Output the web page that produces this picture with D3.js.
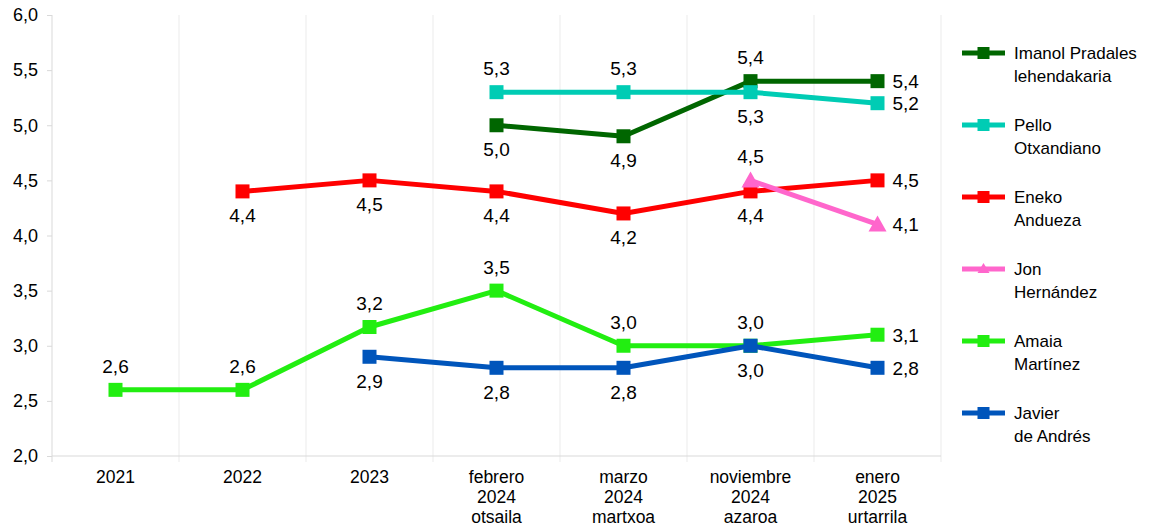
<!DOCTYPE html>
<html>
<head>
<meta charset="utf-8">
<script src="https://cdn.jsdelivr.net/npm/d3@7"></script>
<style>
  body { margin: 0; background: #fff; }
  svg { font-family: "Liberation Sans", Arial, sans-serif; }
</style>
</head>
<body>
<svg width="1166" height="529"></svg>
<script>
// categories (multi-line labels)
var categories = [
    ["2021"], ["2022"], ["2023"],
    ["febrero", "2024", "otsaila"],
    ["marzo", "2024", "martxoa"],
    ["noviembre", "2024", "azaroa"],
    ["enero", "2025", "urtarrila"]
];
var yTicks = [2.0, 2.5, 3.0, 3.5, 4.0, 4.5, 5.0, 5.5, 6.0];

// series values (null = no data)
var pradales = [null, null, null, 5.0, 4.9, 5.4, 5.4];
var otxandiano = [null, null, null, 5.3, 5.3, 5.3, 5.2];
var andueza = [null, 4.4, 4.5, 4.4, 4.2, 4.4, 4.5];
var hernandez = [null, null, null, null, null, 4.5, 4.1];
var martinez = [2.6, 2.6, 3.17, 3.5, 3.0, 3.0, 3.1];
var deAndres = [null, null, 2.9, 2.8, 2.8, 3.0, 2.8];

// label placement per point: "a" above, "b" below, "r" right
var pradalesPos = [null, null, null, "b", "b", "a", "r"];
var otxandianoPos = [null, null, null, "a", "a", "b", "r"];
var anduezaPos = [null, "b", "b", "b", "b", "b", "r"];
var hernandezPos = [null, null, null, null, null, "a", "r"];
var martinezPos = ["a", "a", "a", "a", "a", "b", "r"];
var deAndresPos = [null, null, "b", "b", "b", "a", "r"];

var series = [
    { name: ["Imanol Pradales", "lehendakaria"], values: pradales, pos: pradalesPos, color: "#006600", shape: "square" },
    { name: ["Pello", "Otxandiano"], values: otxandiano, pos: otxandianoPos, color: "#00CCB4", shape: "square" },
    { name: ["Eneko", "Andueza"], values: andueza, pos: anduezaPos, color: "#FF0000", shape: "square" },
    { name: ["Jon", "Hernández"], values: hernandez, pos: hernandezPos, color: "#FF66CC", shape: "triangle" },
    { name: ["Amaia", "Martínez"], values: martinez, pos: martinezPos, color: "#22EE11", shape: "square" },
    { name: ["Javier", "de Andrés"], values: deAndres, pos: deAndresPos, color: "#0055BB", shape: "square" }
];

var svg = d3.select("svg");
var margin = { left: 52, right: 225, top: 15, bottom: 73 };
var width = 1166 - margin.left - margin.right,
    height = 529 - margin.top - margin.bottom;

var g = svg.append("g").attr("transform", "translate(" + margin.left + "," + margin.top + ")");

var x = d3.scaleBand().domain(d3.range(categories.length)).range([0, width]);
var y = d3.scaleLinear().domain([2, 6]).range([height, 0]);
var fmt = function (v) { return d3.format(".1f")(v).replace(".", ","); };

// vertical gridlines at band boundaries
g.append("g").selectAll("line")
    .data(d3.range(categories.length + 1))
    .enter().append("line")
    .attr("x1", function (i) { return i * x.step(); })
    .attr("x2", function (i) { return i * x.step(); })
    .attr("y1", 0).attr("y2", height + 6)
    .attr("stroke", function (i) { return i === 0 ? "#d9d9d9" : "#ebebeb"; })
    .attr("stroke-width", 1);

// y axis
var yAxis = g.append("g")
    .call(d3.axisLeft(y).tickValues(yTicks).tickFormat(fmt).tickSize(5).tickPadding(9));
yAxis.select(".domain").remove();
yAxis.selectAll(".tick line").attr("stroke", "#d9d9d9");
yAxis.selectAll("text").attr("font-size", 18).attr("fill", "#000")
    .attr("font-family", "Liberation Sans, Arial, sans-serif");

// x axis baseline
g.append("line").attr("x1", 0).attr("x2", width).attr("y1", height).attr("y2", height)
    .attr("stroke", "#d9d9d9");

// x labels
var xl = g.append("g").selectAll("text")
    .data(categories)
    .enter().append("text")
    .attr("text-anchor", "middle")
    .attr("font-size", 17.5)
    .attr("fill", "#000")
    .attr("transform", function (d, i) { return "translate(" + (x(i) + x.bandwidth() / 2) + "," + (height + 27) + ")"; });
xl.selectAll("tspan").data(function (d) { return d; })
    .enter().append("tspan")
    .attr("x", 0)
    .attr("dy", function (d, i) { return i === 0 ? 0 : 20; })
    .text(function (d) { return d; });

var cx = function (i) { return x(i) + x.bandwidth() / 2; };
var line = d3.line()
    .defined(function (d) { return d != null; })
    .x(function (d, i) { return cx(i); })
    .y(function (d) { return y(d); });

function marker(sel, shape, color) {
    if (shape === "triangle") {
        sel.append("path").attr("d", "M0,-9L9,7L-9,7Z").attr("fill", color);
    } else {
        sel.append("rect").attr("x", -7).attr("y", -7).attr("width", 14).attr("height", 14).attr("fill", color);
    }
}

series.forEach(function (s) {
    var sg = g.append("g");
    sg.append("path")
        .datum(s.values)
        .attr("d", line)
        .attr("fill", "none")
        .attr("stroke", s.color)
        .attr("stroke-width", 5)
        .attr("stroke-linejoin", "round");
    s.values.forEach(function (v, i) {
        if (v == null) return;
        var m = sg.append("g").attr("transform", "translate(" + cx(i) + "," + y(v) + ")");
        marker(m, s.shape, s.color);
    });
});

// data labels drawn on top
series.forEach(function (s) {
    s.values.forEach(function (v, i) {
        if (v == null) return;
        var p = s.pos[i];
        var tx = cx(i), ty = y(v), anchor = "middle";
        if (p === "a") ty -= 17;
        else if (p === "b") ty += 31;
        else { tx += 15; ty += 7; anchor = "start"; }
        g.append("text")
            .attr("x", tx).attr("y", ty)
            .attr("text-anchor", anchor)
            .attr("font-size", 19)
            .attr("fill", "#000")
            .text(fmt(v));
    });
});

// legend
var legend = svg.append("g").attr("transform", "translate(962,53)");
series.forEach(function (s, k) {
    var lg = legend.append("g").attr("transform", "translate(0," + (k * 72) + ")");
    lg.append("line").attr("x1", 0).attr("x2", 43).attr("y1", 0).attr("y2", 0)
        .attr("stroke", s.color).attr("stroke-width", 5);
    var m = lg.append("g").attr("transform", "translate(21.5,0)");
    if (s.shape === "triangle") {
        m.append("path").attr("d", "M0,-6L6,4L-6,4Z").attr("fill", s.color);
    } else {
        m.append("rect").attr("x", -6).attr("y", -6).attr("width", 12).attr("height", 12).attr("fill", s.color);
    }
    var t = lg.append("text").attr("x", 52).attr("y", 6).attr("font-size", 17).attr("fill", "#000");
    t.selectAll("tspan").data(s.name).enter().append("tspan")
        .attr("x", 52)
        .attr("dy", function (d, i) { return i === 0 ? 0 : 23; })
        .text(function (d) { return d; });
});
</script>
</body>
</html>
